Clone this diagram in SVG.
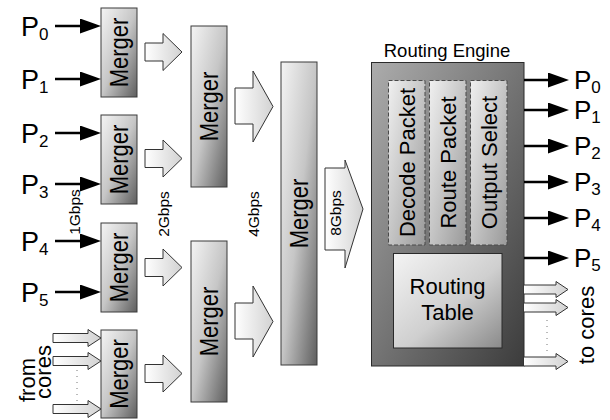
<svg xmlns="http://www.w3.org/2000/svg" width="610" height="420" viewBox="0 0 610 420">
  <style>
    .lbl { font-family: "Liberation Sans", Arial, sans-serif; fill: #000; }
    .merger { stroke: #3a3a3a; stroke-width: 1; fill: url(#gMerger); }
    .stage { stroke: #2a2a2a; stroke-width: 1; fill: url(#gEngine); }
    .dash { stroke: #4a4a4a; stroke-width: 1; stroke-dasharray: 4 2; fill: url(#gStage); }
    .table { stroke: #2a2a2a; stroke-width: 1; fill: url(#gTable); }
    .hollow { stroke: #333; stroke-width: 1; fill: url(#gHollow); stroke-linejoin: miter; }
    .wire { stroke: #000; stroke-width: 2.5; fill: none; marker-end: url(#head); }
    .dots { stroke: #777; stroke-width: 1; stroke-dasharray: 1 5; fill: none; }
  </style>
  <defs>
    <linearGradient id="gMerger" x1="0" y1="0" x2="1" y2="1">
      <stop offset="0" stop-color="#f4f4f4"/>
      <stop offset="0.5" stop-color="#c6c6c6"/>
      <stop offset="1" stop-color="#5e5e5e"/>
    </linearGradient>
    <linearGradient id="gEngine" x1="0" y1="0" x2="1" y2="1">
      <stop offset="0" stop-color="#acacac"/>
      <stop offset="1" stop-color="#3c3c3c"/>
    </linearGradient>
    <linearGradient id="gStage" x1="0" y1="0" x2="1" y2="1">
      <stop offset="0" stop-color="#f0f0f0"/>
      <stop offset="1" stop-color="#9a9a9a"/>
    </linearGradient>
    <linearGradient id="gTable" x1="0" y1="0" x2="1" y2="1">
      <stop offset="0" stop-color="#f4f4f4"/>
      <stop offset="0.55" stop-color="#cfcfcf"/>
      <stop offset="1" stop-color="#8a8a8a"/>
    </linearGradient>
    <linearGradient id="gHollow" x1="0" y1="0" x2="1" y2="0">
      <stop offset="0" stop-color="#ffffff"/>
      <stop offset="1" stop-color="#d2d2d2"/>
    </linearGradient>
    <marker id="head" markerUnits="userSpaceOnUse" markerWidth="22" markerHeight="16" refX="16" refY="7.5" orient="auto">
      <path d="M0,0 L21,7.5 L0,15 Z" fill="#000"/>
    </marker>
  </defs>

  <rect width="610" height="420" fill="#fff"/>

  <!-- input port labels -->
  <g id="inputs" class="lbl" font-size="27">
    <text x="21" y="36">P<tspan font-size="17" dy="4">0</tspan></text>
    <text x="21" y="89">P<tspan font-size="17" dy="4">1</tspan></text>
    <text x="21" y="143">P<tspan font-size="17" dy="4">2</tspan></text>
    <text x="21" y="194">P<tspan font-size="17" dy="4">3</tspan></text>
    <text x="21" y="251">P<tspan font-size="17" dy="4">4</tspan></text>
    <text x="21" y="302">P<tspan font-size="17" dy="4">5</tspan></text>
    <text class="lbl" font-size="22" transform="translate(35,380) rotate(-90)" text-anchor="middle">from</text>
    <text class="lbl" font-size="22" transform="translate(51,372) rotate(-90)" text-anchor="middle">cores</text>
  </g>

  <!-- first merge stage -->
  <g id="merger-1a">
    <rect class="merger" x="101" y="8" width="36" height="89"/>
    <text class="lbl" font-size="22" text-anchor="middle" transform="translate(128,52.5) rotate(-90) scale(1,1.18)">Merger</text>
  </g>
  <g id="merger-1b">
    <rect class="merger" x="101" y="115" width="36" height="89"/>
    <text class="lbl" font-size="22" text-anchor="middle" transform="translate(128,159.5) rotate(-90) scale(1,1.18)">Merger</text>
  </g>
  <g id="merger-1c">
    <rect class="merger" x="101" y="223" width="36" height="89"/>
    <text class="lbl" font-size="22" text-anchor="middle" transform="translate(128,267.5) rotate(-90) scale(1,1.18)">Merger</text>
  </g>
  <g id="merger-1d">
    <rect class="merger" x="101" y="330" width="36" height="88"/>
    <text class="lbl" font-size="22" text-anchor="middle" transform="translate(128,374) rotate(-90) scale(1,1.18)">Merger</text>
  </g>

  <!-- second merge stage -->
  <g id="merger-2a">
    <rect class="merger" x="191" y="26" width="36" height="161"/>
    <text class="lbl" font-size="22" text-anchor="middle" transform="translate(218,106.5) rotate(-90) scale(1,1.18)">Merger</text>
  </g>
  <g id="merger-2b">
    <rect class="merger" x="191" y="241" width="36" height="161"/>
    <text class="lbl" font-size="22" text-anchor="middle" transform="translate(218,321.5) rotate(-90) scale(1,1.18)">Merger</text>
  </g>

  <!-- third merge stage -->
  <g id="merger-3">
    <rect class="merger" x="281" y="62" width="36" height="303"/>
    <text class="lbl" font-size="22" text-anchor="middle" transform="translate(308,213.5) rotate(-90) scale(1,1.18)">Merger</text>
  </g>

  <!-- routing engine -->
  <g id="routing-engine">
    <text class="lbl" font-size="18.5" x="447" y="57" text-anchor="middle">Routing Engine</text>
    <rect class="stage" x="371.5" y="62.5" width="152.5" height="303.5"/>
  </g>
  <g id="decode-packet">
    <rect class="dash" x="388.5" y="80.5" width="36.5" height="164.5"/>
    <text class="lbl" font-size="22" text-anchor="middle" transform="translate(414.5,162.5) rotate(-90)">Decode Packet</text>
  </g>
  <g id="route-packet">
    <rect class="dash" x="429.5" y="80.5" width="36.5" height="164.5"/>
    <text class="lbl" font-size="22" text-anchor="middle" transform="translate(455.5,162.5) rotate(-90)">Route Packet</text>
  </g>
  <g id="output-select">
    <rect class="dash" x="470.5" y="80.5" width="36.5" height="164.5"/>
    <text class="lbl" font-size="22" text-anchor="middle" transform="translate(496.5,162.5) rotate(-90)">Output Select</text>
  </g>
  <g id="routing-table">
    <rect class="table" x="393.5" y="253.5" width="108.5" height="94.5"/>
    <text class="lbl" font-size="22" text-anchor="middle" x="447.5" y="294">Routing</text>
    <text class="lbl" font-size="22" text-anchor="middle" x="447.5" y="320">Table</text>
  </g>

  <!-- output port labels -->
  <g id="outputs" class="lbl" font-size="26">
    <text x="574" y="89">P<tspan font-size="17" dy="4">0</tspan></text>
    <text x="574" y="119">P<tspan font-size="17" dy="4">1</tspan></text>
    <text x="574" y="155">P<tspan font-size="17" dy="4">2</tspan></text>
    <text x="574" y="191">P<tspan font-size="17" dy="4">3</tspan></text>
    <text x="574" y="227">P<tspan font-size="17" dy="4">4</tspan></text>
    <text x="574" y="267">P<tspan font-size="17" dy="4">5</tspan></text>
    <text class="lbl" font-size="22" text-anchor="middle" transform="translate(594,325) rotate(-90)">to cores</text>
  </g>

  <!-- links between ports and stages -->
  <g id="connectors">
    <line class="wire" x1="55" y1="26" x2="96" y2="26"/>
    <line class="wire" x1="55" y1="79" x2="96" y2="79"/>
    <line class="wire" x1="55" y1="133" x2="96" y2="133"/>
    <line class="wire" x1="55" y1="184" x2="96" y2="184"/>
    <line class="wire" x1="55" y1="241" x2="96" y2="241"/>
    <line class="wire" x1="55" y1="292" x2="96" y2="292"/>

    <!-- core injection ports -->
    <path class="hollow" d="M53,333.5 H88 V329.5 L101,338 L88,346.5 V342.5 H53 Z"/>
    <path class="hollow" d="M53,356.5 H88 V352.5 L101,361 L88,369.5 V365.5 H53 Z"/>
    <path class="hollow" d="M53,404.5 H88 V400.5 L101,409 L88,417.5 V413.5 H53 Z"/>
    <line class="dots" x1="77" y1="370" x2="77" y2="401"/>

    <!-- stage 1 to stage 2 -->
    <path class="hollow" d="M145,43 H163 V33.5 L182,52 L163,70.5 V61 H145 Z"/>
    <path class="hollow" d="M145,149.5 H163 V140 L182,158.5 L163,177 V167.5 H145 Z"/>
    <path class="hollow" d="M145,258.5 H163 V249 L182,267.5 L163,286 V276.5 H145 Z"/>
    <path class="hollow" d="M145,364.5 H163 V355 L182,373.5 L163,392 V382.5 H145 Z"/>

    <!-- stage 2 to stage 3 -->
    <path class="hollow" d="M235,88 H253 V71 L273,106.5 L253,142 V124 H235 Z"/>
    <path class="hollow" d="M235,303 H253 V286 L273,321.5 L253,357 V339 H235 Z"/>

    <!-- stage 3 to routing engine -->
    <path class="hollow" d="M325,168 H345 V160 L363,209 L345,268 V250 H325 Z"/>

    <!-- routed outputs -->
    <line class="wire" x1="524" y1="80" x2="564" y2="80"/>
    <line class="wire" x1="524" y1="110" x2="564" y2="110"/>
    <line class="wire" x1="524" y1="146" x2="564" y2="146"/>
    <line class="wire" x1="524" y1="182" x2="564" y2="182"/>
    <line class="wire" x1="524" y1="218" x2="564" y2="218"/>
    <line class="wire" x1="524" y1="258" x2="564" y2="258"/>

    <!-- ejection ports -->
    <path class="hollow" d="M524,285 H556 V281.5 L568,289.5 L556,297.5 V294 H524"/>
    <path class="hollow" d="M524,303 H556 V299.5 L568,307.5 L556,315.5 V312 H524"/>
    <path class="hollow" d="M524,357 H556 V353.5 L568,361.5 L556,369.5 V366 H524"/>
    <line class="dots" x1="547" y1="320" x2="547" y2="352"/>

    <!-- link rates -->
    <text class="lbl" font-size="15.5" text-anchor="middle" transform="translate(80,212) rotate(-90)">1Gbps</text>
    <text class="lbl" font-size="15.5" text-anchor="middle" transform="translate(169,214) rotate(-90)">2Gbps</text>
    <text class="lbl" font-size="15.5" text-anchor="middle" transform="translate(259,214) rotate(-90)">4Gbps</text>
    <text class="lbl" font-size="15.5" text-anchor="middle" transform="translate(341,213) rotate(-90)">8Gbps</text>
  </g>
</svg>
